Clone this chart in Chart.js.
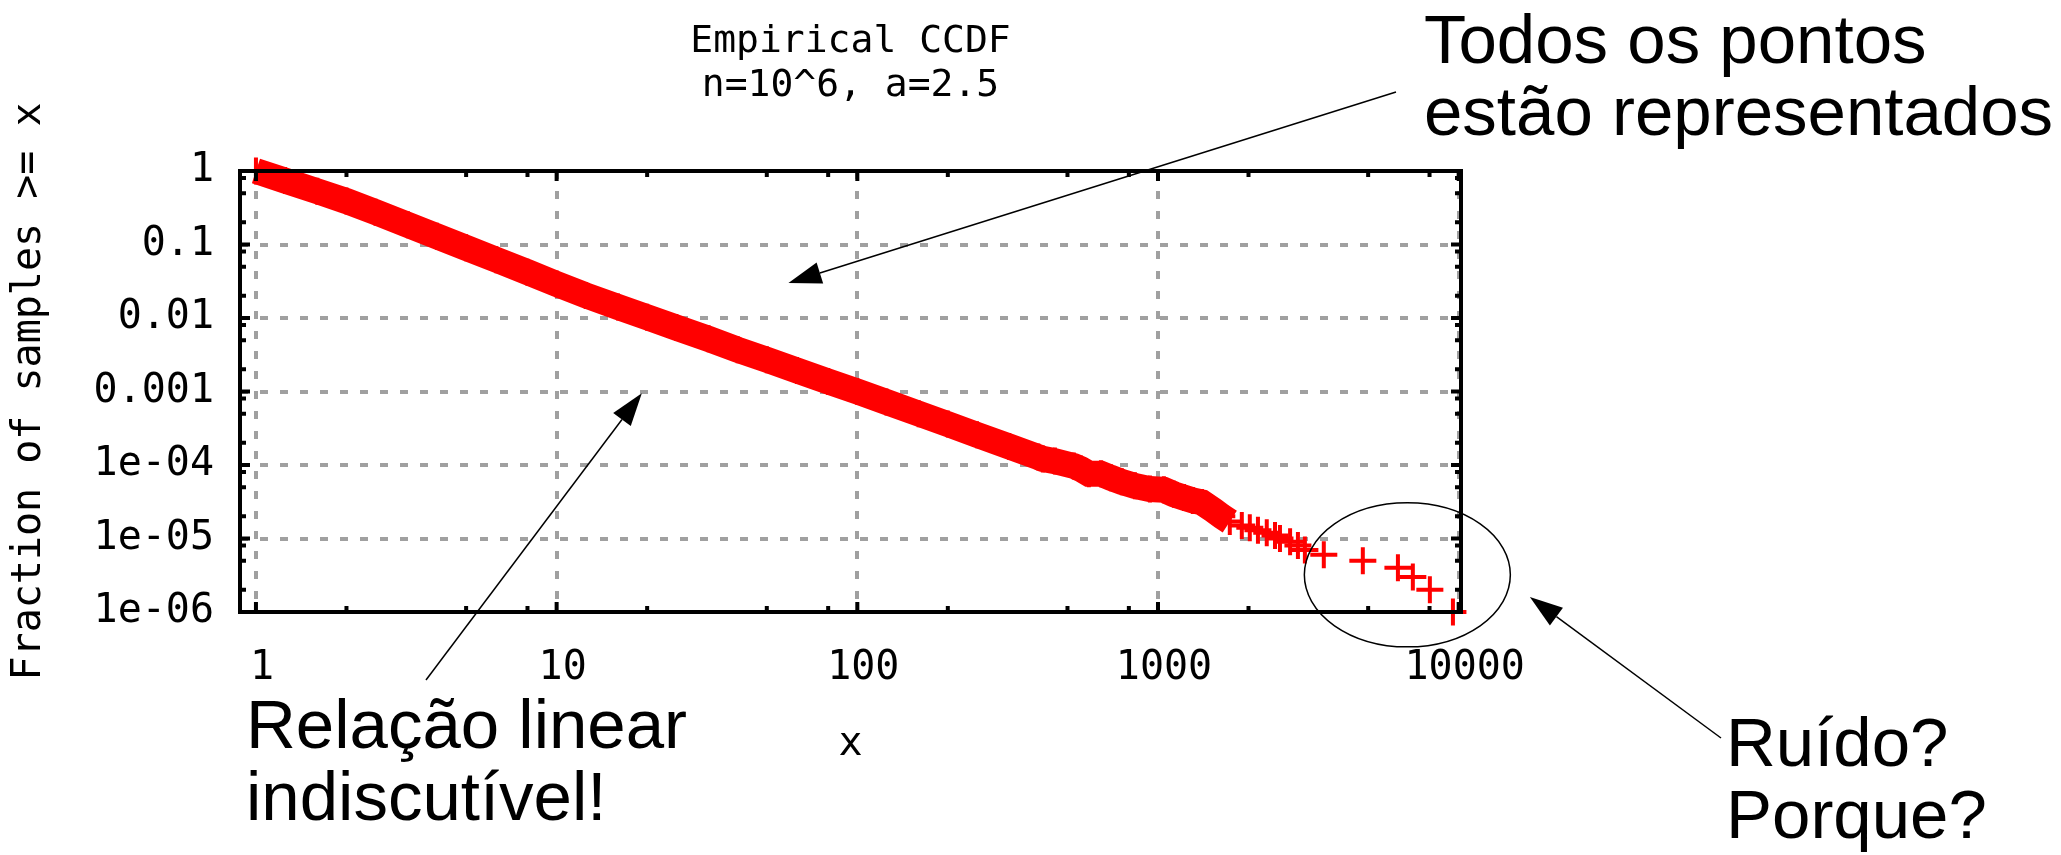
<!DOCTYPE html>
<html>
<head>
<meta charset="utf-8">
<title>Empirical CCDF</title>
<script src="https://cdn.jsdelivr.net/npm/chart.js@4.4.1/dist/chart.umd.min.js"></script>
<style>
  html, body { margin: 0; padding: 0; background: #fff; }
  canvas { display: block; }
</style>
</head>
<body>
<canvas id="ccdfChart" width="2061" height="855"></canvas>
<script>
// Empirical CCDF: sample value x and fraction of samples >= x
const ccdfX = [1, 1.25, 1.6, 2, 2.5, 3.2, 4, 5, 6.3, 8, 10, 12.5, 16, 20, 25, 32, 40, 50, 63, 80,
  100, 125, 160, 200, 250, 320, 400, 414, 454, 525, 554, 589, 646, 697, 758, 838, 940,
  1046, 1130, 1220, 1306, 1400, 1535, 1630, 1733, 1900, 2020, 2150, 2300, 2450, 2545,
  2750, 2920, 3080, 3560, 4800, 6280, 7040, 8020, 9570];
const ccdfY = [1, 0.74, 0.53, 0.39, 0.275, 0.185, 0.129, 0.09, 0.062, 0.042, 0.029, 0.0203, 0.0141, 0.0102, 0.0074, 0.0052, 0.0037, 0.0027, 0.00193, 0.00137,
  0.001, 0.00072, 0.0005, 0.00036, 0.000257, 0.000179, 0.000128, 0.000121, 0.000113, 0.000097, 0.000088, 0.000076, 0.000076, 0.000067, 0.000059, 0.000052, 0.000047,
  0.000046, 0.00004, 0.000036, 0.000033, 0.000031, 0.000024, 0.00002, 0.000017, 0.000015, 0.000014, 0.000013, 0.000012, 0.000011, 0.00001,
  9e-6, 8e-6, 7e-6, 6e-6, 5e-6, 4e-6, 3e-6, 2e-6, 1e-6];
// up to here the samples are packed so tightly that the markers merge into a band
const bandLimit = 1800;

const xTicks = [1, 10, 100, 1000, 10000];
const xTickLabels = ['1', '10', '100', '1000', '10000'];
const yTicks = [1e-6, 1e-5, 1e-4, 0.001, 0.01, 0.1, 1];
const yTickLabels = ['1e-06', '1e-05', '1e-04', '0.001', '0.01', '0.1', '1'];
const minorSteps = [2, 5, 8];

const titleLines = ['Empirical CCDF', 'n=10^6, a=2.5'];

const callouts = [
  { lines: ['Todos os pontos', 'estão representados'], x: 1424, y: 63, tail: [1396, 92], tip: [59, 0.030] },
  { lines: ['Relação linear', 'indiscutível!'], x: 246, y: 748, tail: [426, 680], tip: [19.2, 0.00095] },
  { lines: ['Ruído?', 'Porque?'], x: 1726, y: 766, tail: [1721, 738], tip: [17250, 1.6e-6] }
];
const noiseRing = { x: 6750, y: 3.2e-6, rx: 103, ry: 72 };

const points = ccdfX.map((x, i) => ({ x: x, y: ccdfY[i] }));
const red = '#ff0000';
const tickFont = { family: '"DejaVu Sans Mono"', size: 40, lineHeight: 1.2 };

function logTicks(min, max) {
  const out = [];
  for (let e = Math.floor(Math.log10(min)); e <= Math.ceil(Math.log10(max)); e++) {
    const d = Math.pow(10, e);
    out.push({ v: d, len: 10 });
    minorSteps.forEach(m => out.push({ v: m * d, len: 6 }));
  }
  return out.filter(t => t.v > min && t.v < max);
}

// gnuplot style border with tick marks pointing inwards on all four sides
const framePlugin = {
  id: 'frame',
  afterDatasetsDraw(chart) {
    const { ctx, chartArea: a, scales: { x, y } } = chart;
    ctx.save();
    ctx.strokeStyle = '#000';
    ctx.lineWidth = 4;
    ctx.beginPath();
    logTicks(x.min, x.max).forEach(t => {
      const px = x.getPixelForValue(t.v);
      ctx.moveTo(px, a.bottom); ctx.lineTo(px, a.bottom - t.len);
      ctx.moveTo(px, a.top); ctx.lineTo(px, a.top + t.len);
    });
    logTicks(y.min, y.max).forEach(t => {
      const py = y.getPixelForValue(t.v);
      ctx.moveTo(a.left, py); ctx.lineTo(a.left + t.len, py);
      ctx.moveTo(a.right, py); ctx.lineTo(a.right - t.len, py);
    });
    ctx.stroke();
    ctx.strokeRect(a.left, a.top, a.right - a.left, a.bottom - a.top);
    ctx.restore();
  }
};

function drawArrow(ctx, x0, y0, x1, y1) {
  const ang = Math.atan2(y1 - y0, x1 - x0);
  const len = 33, half = 11;
  const bx = x1 - len * Math.cos(ang), by = y1 - len * Math.sin(ang);
  ctx.beginPath();
  ctx.moveTo(x0, y0);
  ctx.lineTo(bx, by);
  ctx.stroke();
  ctx.beginPath();
  ctx.moveTo(x1, y1);
  ctx.lineTo(bx + half * Math.sin(ang), by - half * Math.cos(ang));
  ctx.lineTo(bx - half * Math.sin(ang), by + half * Math.cos(ang));
  ctx.closePath();
  ctx.fill();
}

// comments around the plot, with arrows and the ring around the tail
const calloutPlugin = {
  id: 'callouts',
  afterDraw(chart) {
    const { ctx, scales: { x, y } } = chart;
    ctx.save();
    ctx.fillStyle = '#000';
    ctx.strokeStyle = '#000';
    ctx.lineWidth = 1.5;
    ctx.font = '69px "Liberation Sans"';
    ctx.textAlign = 'left';
    ctx.textBaseline = 'alphabetic';
    callouts.forEach(c => {
      c.lines.forEach((line, i) => ctx.fillText(line, c.x, c.y + i * 72));
      drawArrow(ctx, c.tail[0], c.tail[1], x.getPixelForValue(c.tip[0]), y.getPixelForValue(c.tip[1]));
    });
    ctx.beginPath();
    ctx.ellipse(x.getPixelForValue(noiseRing.x), y.getPixelForValue(noiseRing.y), noiseRing.rx, noiseRing.ry, 0, 0, Math.PI * 2);
    ctx.stroke();
    ctx.restore();
  }
};

new Chart(document.getElementById('ccdfChart'), {
  type: 'line',
  data: {
    datasets: [
      {
        data: points.filter(p => p.x <= bandLimit),
        borderColor: red,
        borderWidth: 26,
        borderCapStyle: 'butt',
        pointRadius: 0,
        tension: 0,
        clip: false,
        order: 2
      },
      {
        data: points,
        showLine: false,
        pointStyle: 'cross',
        pointRadius: 13.5,
        pointBorderWidth: 4,
        pointBorderColor: red,
        pointBackgroundColor: red,
        clip: false,
        order: 1
      }
    ]
  },
  options: {
    responsive: false,
    animation: false,
    events: [],
    layout: { padding: { left: 0, right: 600, top: 0, bottom: 0 } },
    plugins: {
      legend: { display: false },
      tooltip: { enabled: false },
      title: {
        display: true,
        fullSize: false,
        text: titleLines,
        color: '#000',
        font: { family: '"DejaVu Sans Mono"', size: 38, weight: 'normal', lineHeight: '44px' },
        padding: { top: 20, bottom: 63 }
      }
    },
    scales: {
      x: {
        type: 'logarithmic',
        position: 'bottom',
        min: 0.885,
        max: 10180,
        afterBuildTicks: s => { s.ticks = xTicks.map(v => ({ value: v })); },
        afterFit: s => { s.height = 243; },
        grid: { color: '#a0a0a0', lineWidth: 4, drawTicks: false },
        border: { display: false, dash: [8, 12] },
        ticks: {
          autoSkip: false, maxRotation: 0, padding: 33, labelOffset: 6,
          color: '#000', font: tickFont,
          callback: (v, i) => xTickLabels[i]
        },
        title: { display: true, text: 'x', color: '#000', font: tickFont, padding: { top: 0, bottom: 86 } }
      },
      y: {
        type: 'logarithmic',
        position: 'left',
        min: 1e-6,
        max: 1,
        afterBuildTicks: s => { s.ticks = yTicks.map(v => ({ value: v })); },
        afterFit: s => { s.width = 240; },
        grid: { color: '#a0a0a0', lineWidth: 4, drawTicks: false },
        border: { display: false, dash: [8, 12] },
        ticks: {
          autoSkip: false, padding: 26,
          color: '#000', font: tickFont,
          callback: (v, i) => yTickLabels[i]
        },
        title: { display: true, text: 'Fraction of samples >= x', color: '#000', font: tickFont, padding: { top: 6, bottom: 0 } }
      }
    }
  },
  plugins: [framePlugin, calloutPlugin]
});
</script>
</body>
</html>
